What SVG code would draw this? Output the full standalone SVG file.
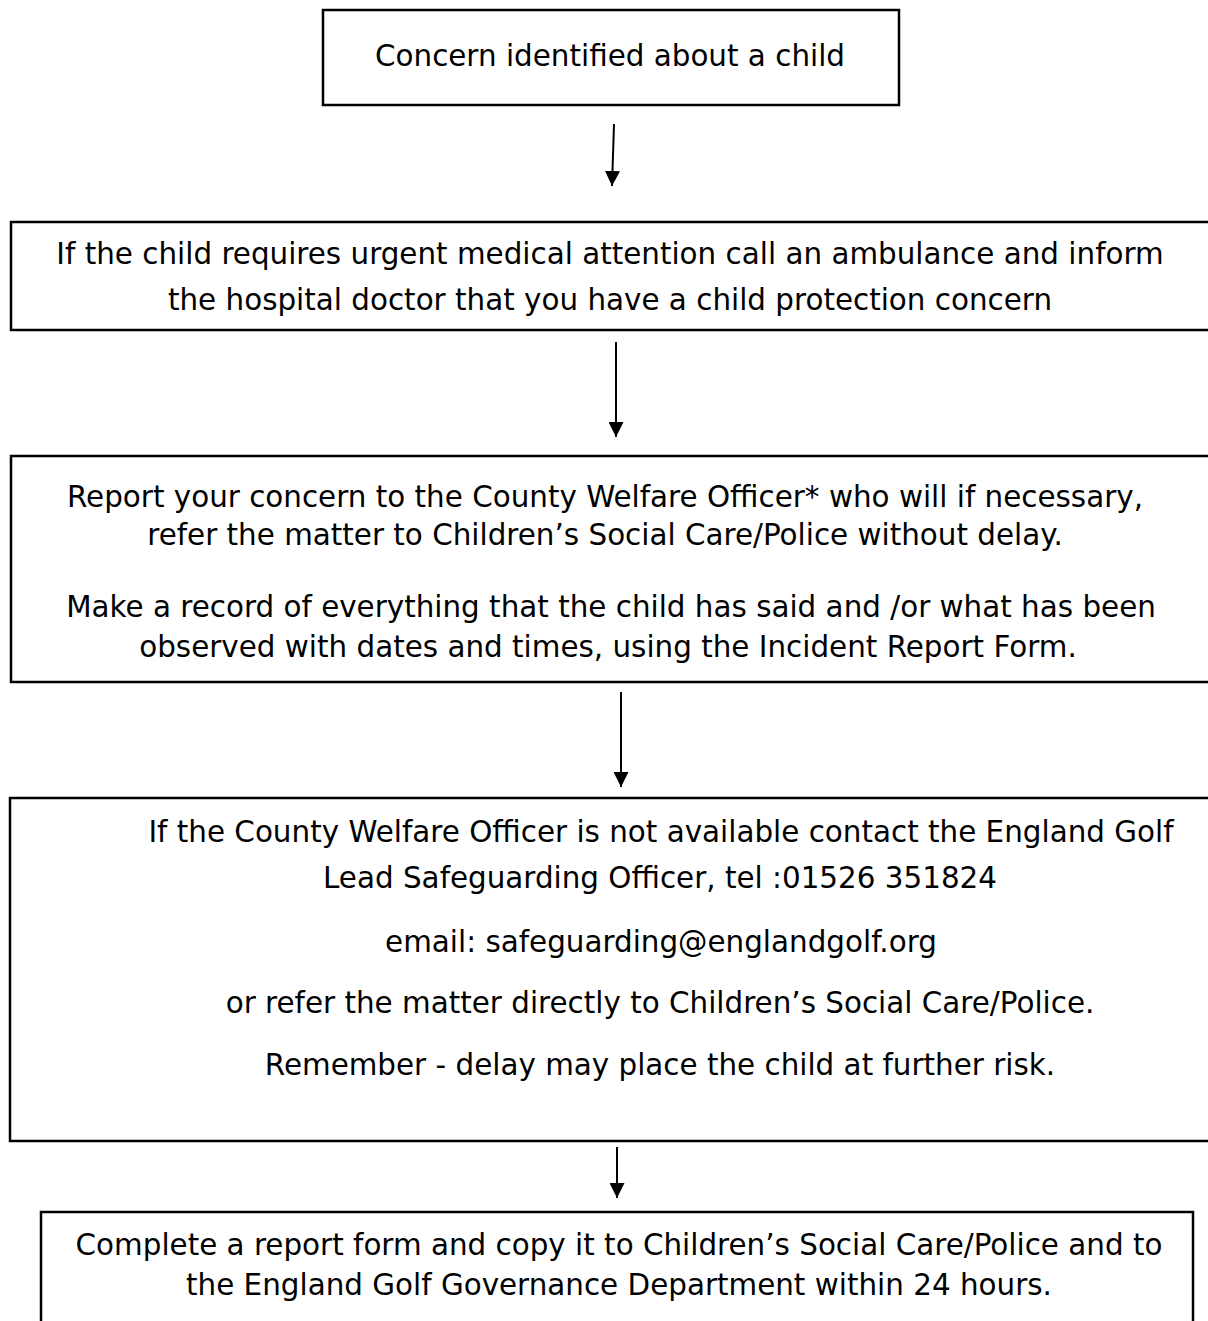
<svg xmlns="http://www.w3.org/2000/svg" width="1208" height="1321" viewBox="0 0 1208 1321">
<style>
.box{fill:#fff;stroke:#000;stroke-width:2.5}
.t{font-family:"DejaVu Sans","Verdana",sans-serif;font-size:29.4px;fill:#000;text-anchor:middle}
.c{stroke:#000;stroke-width:2;fill:none}
</style>
<defs>
<marker id="ah" viewBox="0 0 10 10" refX="10" refY="5" markerWidth="7.5" markerHeight="7.5" markerUnits="strokeWidth" orient="auto">
<path d="M0,0 L10,5 L0,10 Z" fill="#000"/>
</marker>
</defs>
<rect width="1208" height="1321" fill="#fff"/>
<g id="n1">
<rect class="box" x="323" y="10" width="576" height="95"/>
<text class="t" x="610" y="66">Concern identified about a child</text>
</g>
<g id="n2">
<rect class="box" x="11" y="222" width="1210" height="108"/>
<text class="t" x="610" y="264">If the child requires urgent medical attention call an ambulance and inform</text>
<text class="t" x="610" y="310">the hospital doctor that you have a child protection concern</text>
</g>
<g id="n3">
<rect class="box" x="11" y="456" width="1210" height="226"/>
<text class="t" x="605" y="507">Report your concern to the County Welfare Officer* who will if necessary,</text>
<text class="t" x="605" y="545">refer the matter to Children’s Social Care/Police without delay.</text>
<text class="t" x="611" y="617">Make a record of everything that the child has said and /or what has been</text>
<text class="t" x="608" y="657">observed with dates and times, using the Incident Report Form.</text>
</g>
<g id="n4">
<rect class="box" x="10" y="798" width="1210" height="343"/>
<text class="t" x="661" y="842">If the County Welfare Officer is not available contact the England Golf</text>
<text class="t" x="660" y="888">Lead Safeguarding Officer, tel :01526 351824</text>
<text class="t" x="661" y="952">email: safeguarding@englandgolf.org</text>
<text class="t" x="660" y="1013">or refer the matter directly to Children’s Social Care/Police.</text>
<text class="t" x="660" y="1075">Remember - delay may place the child at further risk.</text>
</g>
<g id="n5">
<rect class="box" x="41" y="1212" width="1152" height="130"/>
<text class="t" x="619" y="1255">Complete a report form and copy it to Children’s Social Care/Police and to</text>
<text class="t" x="619" y="1295">the England Golf Governance Department within 24 hours.</text>
</g>
<g id="connectors">
<line class="c" x1="614" y1="124" x2="612" y2="186" marker-end="url(#ah)"/>
<line class="c" x1="616" y1="342" x2="616" y2="437" marker-end="url(#ah)"/>
<line class="c" x1="621" y1="692" x2="621" y2="787" marker-end="url(#ah)"/>
<line class="c" x1="617" y1="1147" x2="617" y2="1198" marker-end="url(#ah)"/>
</g>
</svg>
